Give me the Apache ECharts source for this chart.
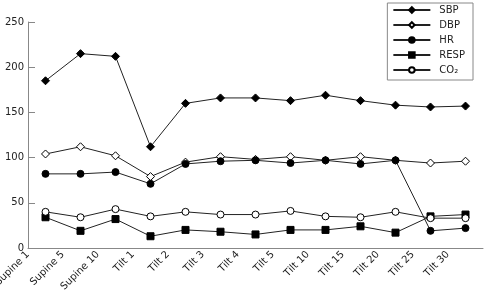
<!DOCTYPE html>
<html>
<head>
<meta charset="utf-8">
<script src="https://cdn.jsdelivr.net/npm/echarts@6/dist/echarts.min.js"></script>
<style>html,body{margin:0;padding:0;background:#fff}#c{width:485px;height:291px}</style>
</head>
<body>
<div id="c"></div>
<script>
const categories = ['Supine 1','Supine 5','Supine 10','Tilt 1','Tilt 2','Tilt 3','Tilt 4','Tilt 5','Tilt 10','Tilt 15','Tilt 20','Tilt 25','Tilt 30'];
const sbp  = [185, 215, 212, 112, 160, 166, 166, 163, 169, 163, 158, 156, 157];
const dbp  = [104, 112, 102, 79, 95, 101, 98, 101, 97, 101, 97, 94, 96];
const hr   = [82, 82, 84, 71, 93, 96, 97, 94, 97, 93, 97, 19, 22];
const resp = [34, 19, 32, 13, 20, 18, 15, 20, 20, 24, 17, 35, 37];
const co2  = [40, 34, 43, 35, 40, 37, 37, 41, 35, 34, 40, 33, 33];
const yTicks = {min: 0, max: 250, interval: 50};

const FONT = 'DejaVu Sans';
const lineCol = '#222';
function mk(name, data, symbol, fill, size) {
  return {
    name, type: 'line', data, xAxisIndex: 0,
    symbol, symbolSize: size,
    lineStyle: {color: lineCol, width: 1},
    itemStyle: {color: fill, borderColor: '#000', borderWidth: 1},
    emphasis: {disabled: true}, animation: false
  };
}
const chart = echarts.init(document.getElementById('c'), null, {renderer: 'canvas'});
chart.setOption({
  animation: false,
  textStyle: {fontFamily: FONT},
  grid: {left: 28, right: 2, top: 22, bottom: 43, containLabel: false, outerBoundsMode: 'none'},
  legend: {
    orient: 'vertical', right: 12, top: 3,
    padding: [2, 8, 5, 5],
    borderColor: '#888', borderWidth: 1,
    itemWidth: 37, itemHeight: 7, itemGap: 5,
    textStyle: {fontFamily: FONT, fontSize: 10, color: '#222', padding: [0, 0, 0, 4]},
    data: ['SBP','DBP','HR','RESP','CO₂']
  },
  xAxis: [{
    type: 'category', data: categories, boundaryGap: true,
    axisLine: {lineStyle: {color: '#888'}},
    axisTick: {inside: true, length: 8, lineStyle: {color: '#888'}},
    axisLabel: {show: false}, splitLine: {show: false}
  }, {
    type: 'category', data: categories.concat(['']), boundaryGap: false, position: 'bottom',
    axisLine: {show: false}, axisTick: {show: false},
    axisLabel: {rotate: 45, margin: 5, fontSize: 10, color: '#222', fontFamily: FONT, interval: 0}
  }],
  yAxis: {
    type: 'value', min: yTicks.min, max: yTicks.max, interval: yTicks.interval,
    axisLine: {show: true, lineStyle: {color: '#888'}},
    axisTick: {show: true, inside: true, length: 7, lineStyle: {color: '#888'}},
    axisLabel: {margin: 4, fontSize: 10, color: '#222', fontFamily: FONT},
    splitLine: {show: false}
  },
  series: [
    mk('SBP', sbp, 'diamond', '#000', 8),
    mk('DBP', dbp, 'diamond', '#fff', 8),
    mk('HR', hr, 'circle', '#000', 7),
    mk('RESP', resp, 'rect', '#000', 7),
    mk('CO₂', co2, 'circle', '#fff', 7)
  ]
});
</script>
</body>
</html>
